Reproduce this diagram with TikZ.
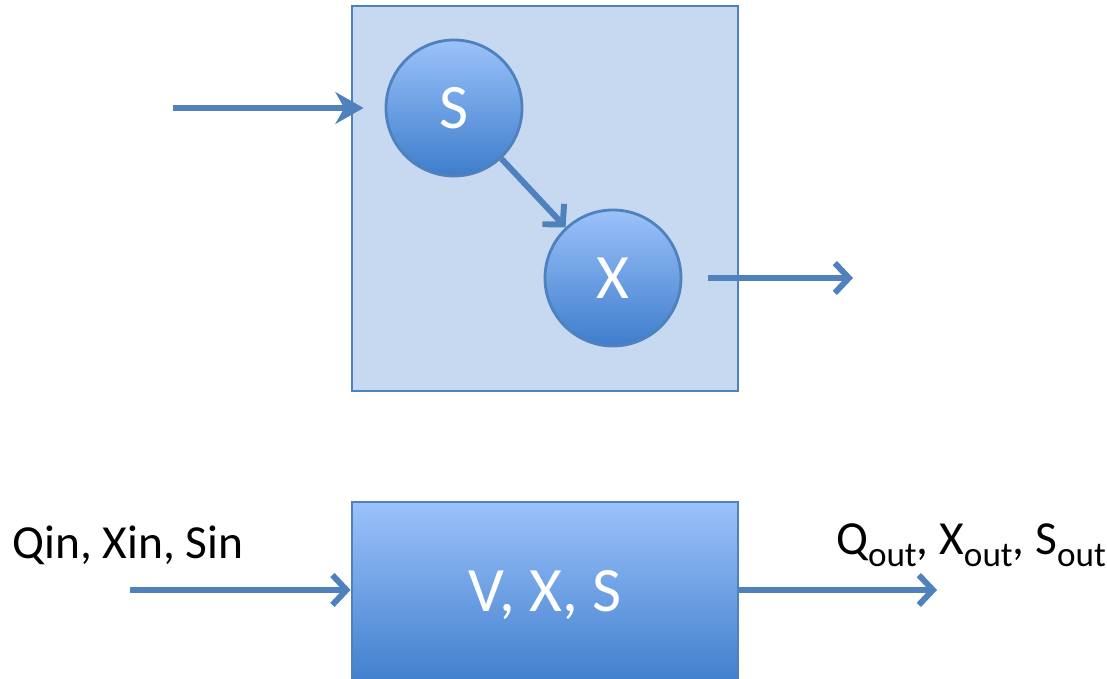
\documentclass[tikz,border=0pt]{standalone}
\usepackage{fontspec}
\setmainfont{Carlito}
\usetikzlibrary{arrows.meta}
\definecolor{edgeblue}{RGB}{79,129,189}
\definecolor{paleblue}{RGB}{198,217,240}
\definecolor{topblue}{RGB}{155,194,250}
\definecolor{lowblue}{RGB}{62,125,204}
\newcommand{\lowsub}[1]{\raisebox{-0.55ex}{\fontsize{10}{12}\selectfont #1}}
\tikzset{
	flow/.style={draw=edgeblue, line width=1.7pt, -{Straight Barb[length=4pt, width=8.5pt]}},
	ball/.style={circle, draw=edgeblue, line width=0.8pt, top color=topblue, bottom color=lowblue,
		minimum size=13.6mm, inner sep=0pt, text=white, font=\fontsize{18}{20}\selectfont},
	tank/.style={rectangle, draw=edgeblue, line width=0.8pt, top color=topblue, bottom color=lowblue,
		minimum width=38.6mm, minimum height=18.6mm, inner sep=0pt, text=white, font=\fontsize{18}{20}\selectfont},
	lbl/.style={font=\fontsize{13.5}{16}\selectfont}
}
\begin{document}
\begin{tikzpicture}
\useasboundingbox (0,0) rectangle (11.07,-6.79);

% Reactor completo
\draw[edgeblue, fill=paleblue, line width=0.8pt] (3.52,-0.06) rectangle (7.38,-3.91);
\node[ball] (S) at (4.54,-1.08) {S};
\node[ball] (X) at (6.13,-2.78) {X};

\coordinate (in1) at (1.73,-1.08);
\coordinate (out1) at (8.53,-2.78);

\draw[flow, -{Stealth[length=8pt, width=9pt, inset=2.5pt]}, shorten >=0.21cm] (in1) -- (S);
\draw[flow] (S) -- (X);
\draw[flow, shorten <=0.26cm] (X) -- (out1);

% Reactor agregado
\node[tank] (V) at (5.45,-5.95) {V, X, S};

\coordinate (in2) at (1.30,-5.90);
\coordinate (out2) at (9.37,-5.90);

\draw[flow] (in2) -- (in2 -| V.west);
\draw[flow] (out2 -| V.east) -- (out2);

\node[lbl] (Qin) at (1.28,-5.45) {Qin, Xin, Sin};
\node[lbl] (Qout) at (9.71,-5.45) {Q\lowsub{out}, X\lowsub{out}, S\lowsub{out}};
\end{tikzpicture}
\end{document}
